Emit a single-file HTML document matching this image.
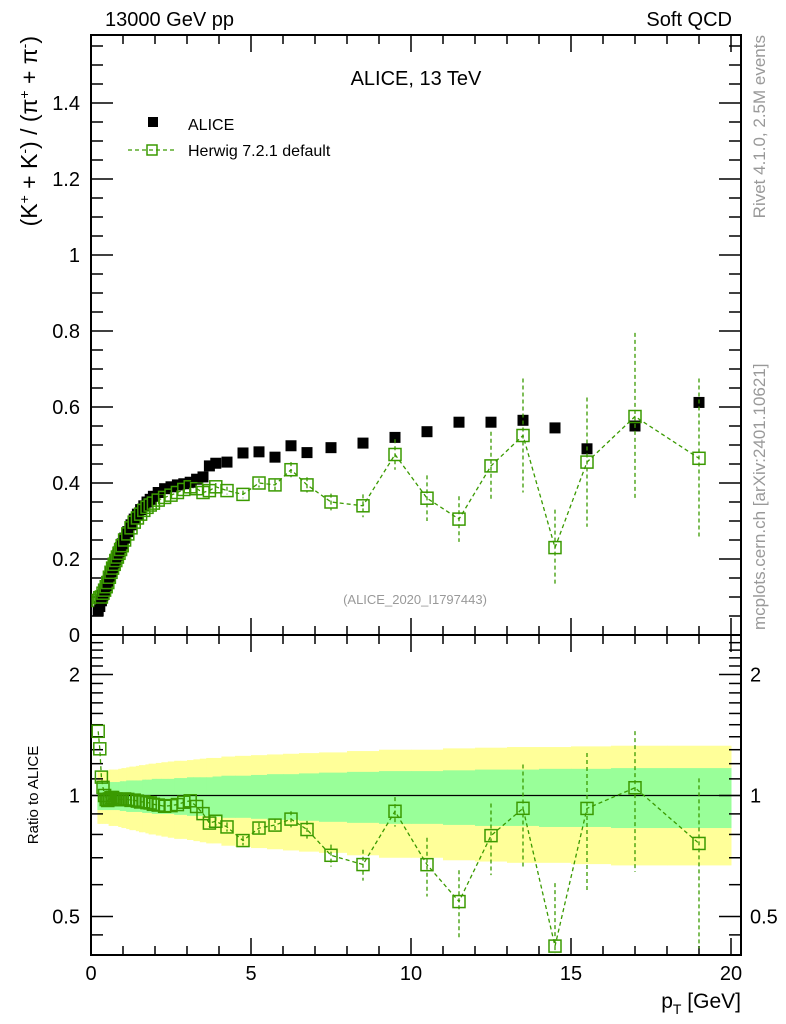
<!DOCTYPE html>
<html><head><meta charset="utf-8"><style>
html,body{margin:0;padding:0;background:#fff;}
svg{display:block;font-family:"Liberation Sans",sans-serif;}
</style></head><body>
<svg id="chart" width="786" height="1024" viewBox="0 0 786 1024" xmlns="http://www.w3.org/2000/svg">
<g id="bands"></g>
<g id="axes"></g>
<g id="marks"></g>
<text x="105" y="26" font-size="20">13000 GeV pp</text>
<text x="732" y="26" font-size="20" text-anchor="end">Soft QCD</text>
<text x="416" y="85" font-size="20" text-anchor="middle">ALICE, 13 TeV</text>
<text x="415" y="604" font-size="13" fill="#999" text-anchor="middle">(ALICE_2020_I1797443)</text>
<rect x="148" y="117" width="10" height="10" fill="#000"/>
<text x="188" y="130" font-size="16">ALICE</text>
<g>
<line x1="128" y1="150" x2="176" y2="150" stroke="#3a9a00" stroke-width="1.3" stroke-dasharray="4,3"/>
<rect x="147" y="145" width="10" height="10" fill="none" stroke="#3a9a00" stroke-width="1.5"/>
</g>
<text x="188" y="156" font-size="16">Herwig 7.2.1 default</text>
<text transform="translate(37,36) rotate(-90)" font-size="23" text-anchor="end">(K<tspan dy="-8" font-size="14">+</tspan><tspan dy="8"> + K</tspan><tspan dy="-8" font-size="14">-</tspan><tspan dy="8">) / (π</tspan><tspan dy="-8" font-size="14">+</tspan><tspan dy="8"> + π</tspan><tspan dy="-8" font-size="14">-</tspan><tspan dy="8">)</tspan></text>
<text transform="translate(38,795) rotate(-90)" font-size="15" text-anchor="middle">Ratio to ALICE</text>
<text x="741" y="1008" font-size="21" text-anchor="end">p<tspan dy="6" font-size="14">T</tspan><tspan dy="-6"> [GeV]</tspan></text>
<text transform="translate(765,35) rotate(-90)" font-size="17" fill="#999" text-anchor="end">Rivet 4.1.0,  2.5M events</text>
<text transform="translate(765,630) rotate(-90)" font-size="17" fill="#999">mcplots.cern.ch [arXiv:2401.10621]</text>
</svg>
<script>
const ptVals = [0.225,0.275,0.325,0.375,0.425,0.475,0.525,0.575,0.625,0.675,0.725,0.775,0.825,0.875,0.925,0.975,1.05,1.15,1.25,1.35,1.45,1.55,1.65,1.75,1.85,1.95,2.1,2.3,2.5,2.7,2.9,3.1,3.3,3.5,3.7,3.9,4.25,4.75,5.25,5.75,6.25,6.75,7.5,8.5,9.5,10.5,11.5,12.5,13.5,14.5,15.5,17,19];
const aliceVals = [0.063,0.075,0.09,0.105,0.118,0.13,0.142,0.155,0.167,0.178,0.19,0.2,0.21,0.22,0.23,0.24,0.255,0.272,0.29,0.305,0.318,0.33,0.34,0.35,0.357,0.365,0.375,0.385,0.39,0.395,0.398,0.402,0.41,0.416,0.445,0.452,0.455,0.479,0.482,0.468,0.498,0.48,0.493,0.505,0.52,0.535,0.56,0.56,0.565,0.545,0.49,0.55,0.612];
const herwigVals = [0.091,0.098,0.1,0.11,0.118,0.127,0.138,0.152,0.165,0.176,0.186,0.196,0.205,0.215,0.225,0.235,0.25,0.266,0.282,0.297,0.308,0.318,0.328,0.336,0.342,0.347,0.355,0.362,0.368,0.375,0.383,0.39,0.385,0.375,0.38,0.39,0.38,0.37,0.40,0.395,0.435,0.395,0.35,0.34,0.475,0.36,0.305,0.445,0.525,0.23,0.455,0.575,0.465];
const herwigErr = [0.004,0.004,0.004,0.004,0.004,0.004,0.004,0.004,0.004,0.004,0.004,0.004,0.004,0.004,0.004,0.004,0.004,0.004,0.004,0.004,0.004,0.004,0.004,0.004,0.004,0.004,0.005,0.005,0.005,0.006,0.006,0.007,0.008,0.008,0.009,0.01,0.01,0.01,0.012,0.014,0.02,0.02,0.022,0.03,0.04,0.06,0.06,0.09,0.15,0.1,0.17,0.22,0.21];
const innerRelErr = [0.08,0.08,0.08,0.08,0.08,0.08,0.08,0.08,0.08,0.08,0.08,0.08,0.08,0.08,0.085,0.085,0.085,0.09,0.09,0.09,0.09,0.09,0.095,0.095,0.095,0.1,0.1,0.1,0.1,0.105,0.105,0.11,0.11,0.11,0.11,0.115,0.12,0.12,0.125,0.13,0.13,0.135,0.14,0.145,0.15,0.15,0.155,0.16,0.16,0.165,0.165,0.17,0.17];
const outerRelErr = [0.15,0.15,0.15,0.15,0.15,0.15,0.15,0.16,0.16,0.16,0.16,0.16,0.16,0.165,0.165,0.17,0.17,0.175,0.18,0.18,0.185,0.19,0.19,0.195,0.2,0.2,0.205,0.21,0.215,0.22,0.22,0.225,0.23,0.235,0.24,0.24,0.25,0.255,0.26,0.265,0.27,0.275,0.28,0.29,0.3,0.3,0.31,0.315,0.32,0.32,0.325,0.33,0.33];
const mainTicks = [0,0.2,0.4,0.6,0.8,1,1.2,1.4];
const ratioTicks = [0.5,1,2];
const xTicks = [0,5,10,15,20];

const NS="http://www.w3.org/2000/svg";
const L=91,R=741,T=35,MB=635,RB=955;
const xs=v=>L+v*32;
const ym=v=>MB-v*380;
const yr=v=>795.5-Math.log2(v)*121;
function mk(tag,at,parent){const e=document.createElementNS(NS,tag);for(const k in at)e.setAttribute(k,at[k]);parent.appendChild(e);return e;}
const axes=document.getElementById('axes'),marks=document.getElementById('marks'),bands=document.getElementById('bands');
const edges=[];
for(let i=0;i<ptVals.length;i++){
  const lo=i==0?ptVals[0]-(ptVals[1]-ptVals[0])/2:(ptVals[i-1]+ptVals[i])/2;
  const hi=i==ptVals.length-1?20:(ptVals[i]+ptVals[i+1])/2;
  edges.push([lo,hi]);
}
[[outerRelErr,'#ffff99'],[innerRelErr,'#99ff99']].forEach(([arr,c],bi)=>{
  for(let i=0;i<ptVals.length;i++){
    const r=mk('rect',{x:xs(edges[i][0]),width:xs(edges[i][1])-xs(edges[i][0])+0.5,y:yr(1+arr[i]),height:yr(1-arr[i])-yr(1+arr[i]),fill:c},bands);
    
    
  }
});
mk('line',{x1:L,x2:R,y1:yr(1),y2:yr(1),stroke:'#000','stroke-width':1.2},axes);
mk('rect',{x:L,y:T,width:R-L,height:MB-T,fill:'none',stroke:'#000','stroke-width':2},axes);
mk('rect',{x:L,y:MB,width:R-L,height:RB-MB,fill:'none',stroke:'#000','stroke-width':2},axes);
for(let v=0;v<=20.001;v+=0.5){
  const maj=Math.abs(v%5)<1e-6, mid=Math.abs(v%1)<1e-6;
  const len=maj?17:(mid?9:0);
  if(!len)continue;
  [[T,1],[MB,-1],[MB,1],[RB,-1]].forEach(([y,d])=>mk('line',{x1:xs(v),x2:xs(v),y1:y,y2:y+d*len,stroke:'#000','stroke-width':1.5},axes));
}
xTicks.forEach(v=>{const t=mk('text',{x:xs(v),y:980,'font-size':20,'text-anchor':'middle'},axes);t.textContent=v;

});
for(let v=0;v<=1.58;v+=0.05){
  const maj=Math.abs((v/0.2)-Math.round(v/0.2))<1e-6;const len=maj?22:12;
  mk('line',{x1:L,x2:L+len,y1:ym(v),y2:ym(v),stroke:'#000','stroke-width':1.5},axes);
  mk('line',{x1:R,x2:R-len,y1:ym(v),y2:ym(v),stroke:'#000','stroke-width':1.5},axes);
}
mainTicks.forEach(v=>{const t=mk('text',{x:80,y:ym(v)+7,'font-size':20,'text-anchor':'end'},axes);t.textContent=v;

});
[0.45,0.5,0.6,0.7,0.8,0.9,1,1.1,1.2,1.3,1.4,1.5,1.6,1.7,1.8,1.9,2,2.1,2.2,2.3,2.4].forEach(v=>{
  const maj=ratioTicks.includes(v);const len=maj?22:12;
  mk('line',{x1:L,x2:L+len,y1:yr(v),y2:yr(v),stroke:'#000','stroke-width':1.5},axes);
  mk('line',{x1:R,x2:R-len,y1:yr(v),y2:yr(v),stroke:'#000','stroke-width':1.5},axes);
});
ratioTicks.forEach(v=>{
  const t=mk('text',{x:80,y:yr(v)+7,'font-size':20,'text-anchor':'end'},axes);t.textContent=v;
  
  
  const t2=mk('text',{x:750,y:yr(v)+7,'font-size':20},axes);t2.textContent=v;
  
  
});
const G='#3a9a00';
const pm=ptVals.map((p,i)=>xs(p)+','+ym(herwigVals[i])).join(' ');
const l1=mk('polyline',{points:pm,fill:'none',stroke:G,'stroke-width':1.3,'stroke-dasharray':'4,3'},marks);


const ratio=herwigVals.map((h,i)=>h/aliceVals[i]);
const pr=ptVals.map((p,i)=>xs(p)+','+yr(Math.max(ratio[i],0.41))).join(' ');
const l2=mk('polyline',{points:pr,fill:'none',stroke:G,'stroke-width':1.3,'stroke-dasharray':'4,3'},marks);


ptVals.forEach((p,i)=>{
  const x=xs(p);
  const a=mk('rect',{x:x-5.5,y:ym(aliceVals[i])-5.5,width:11,height:11,fill:'#000'},marks);
  
  
  const e=herwigErr[i];
  if(e>0.008){
    mk('line',{x1:x,x2:x,y1:ym(herwigVals[i]+e),y2:ym(herwigVals[i]-e),stroke:G,'stroke-width':1.3,'stroke-dasharray':'4,3'},marks);
    const rlo=Math.max((herwigVals[i]-e)/aliceVals[i],0.405),rhi=(herwigVals[i]+e)/aliceVals[i];
    mk('line',{x1:x,x2:x,y1:yr(rhi),y2:yr(rlo),stroke:G,'stroke-width':1.3,'stroke-dasharray':'4,3'},marks);
  }
  const h=mk('rect',{x:x-6,y:ym(herwigVals[i])-6,width:12,height:12,fill:'none',stroke:G,'stroke-width':1.5},marks);
  
  
  const hr=mk('rect',{x:x-6,y:yr(ratio[i])-6,width:12,height:12,fill:'none',stroke:G,'stroke-width':1.5},marks);
  
  
});
</script>
</body></html>
